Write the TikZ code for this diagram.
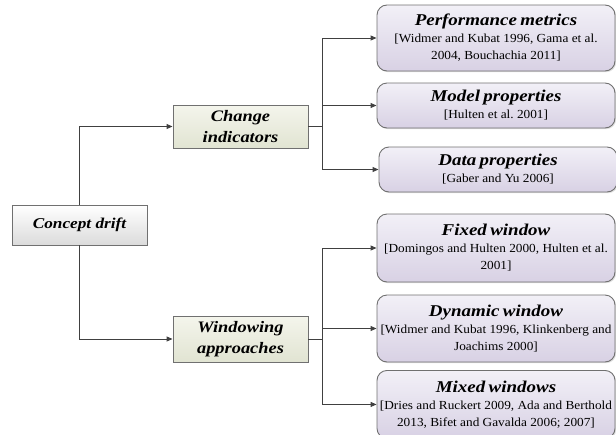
\documentclass[tikz,border=0pt]{standalone}
\usepackage{fontspec}
\setmainfont{Liberation Serif}
\newfontfamily\ttlfont[FakeStretch=1.15]{Liberation Serif}
\newfontfamily\citfont[FakeStretch=1.08]{Liberation Serif}
\usetikzlibrary{shadows,arrows.meta}
\definecolor{linec}{HTML}{404040}
\definecolor{bordc}{HTML}{707070}
\definecolor{lavtop}{HTML}{F2F0F7}
\definecolor{lavbot}{HTML}{D8D1E4}
\definecolor{olvtop}{HTML}{F4F5EC}
\definecolor{olvbot}{HTML}{E1E4D2}
\tikzset{
  basebox/.style={draw=bordc, line width=0.9pt, drop shadow={opacity=0.25, shadow xshift=1.2pt, shadow yshift=-1.2pt}},
  rootbox/.style={basebox, top color=white, bottom color=black!14, minimum width=135pt, minimum height=40pt, inner sep=0pt,
     font=\ttlfont\fontsize{15}{17}\selectfont\bfseries\itshape},
  midbox/.style={basebox, top color=olvtop, bottom color=olvbot, minimum width=135pt, inner sep=0pt, align=center,
     font=\ttlfont\fontsize{16}{21}\selectfont\bfseries\itshape},
  leafbox/.style={basebox, rounded corners=10pt, top color=lavtop, bottom color=lavbot, minimum width=238pt,
     text width=252pt, inner xsep=-7pt, inner ysep=0pt, align=center},
  conn/.style={draw=linec, line width=0.9pt},
  arr/.style={conn, -{Triangle[length=6pt,width=5pt]}},
}
\newcommand{\ttl}[1]{{\ttlfont\fontsize{16.5}{20}\selectfont\bfseries\itshape #1}\par}
\newcommand{\cit}[1]{{\citfont\fontsize{12.3}{17}\selectfont #1\par}}
\frenchspacing
\begin{document}
\begin{tikzpicture}[x=1pt,y=-1pt]
\useasboundingbox (0,0) rectangle (616,434);
\node[rootbox] (cd) at (79.5,225) {Concept drift};
\node[midbox, minimum height=43pt] (ci) at (240.5,126.5) {Change\\indicators};
\node[midbox, minimum height=46pt] (wa) at (240.5,339) {Windowing\\approaches};

\node[leafbox, minimum height=66pt] (b1) at (496,38) {\ttl{Performance metrics}\cit{{[}Widmer and Kubat 1996, Gama et al.\\2004, Bouchachia 2011{]}}};
\node[leafbox, minimum height=45pt] (b2) at (496,105.5) {\ttl{Model properties}\cit{{[}Hulten et al. 2001{]}}};
\node[leafbox, minimum height=45pt, minimum width=233pt] (b3) at (498,169.5) {\ttl{Data properties}\cit{{[}Gaber and Yu 2006{]}}};
\node[leafbox, minimum height=68pt] (b4) at (496,248) {\ttl{Fixed window}\cit{{[}Domingos and Hulten 2000, Hulten et al.\\2001{]}}};
\node[leafbox, minimum height=67pt] (b5) at (496,328.5) {\ttl{Dynamic window}\cit{{[}Widmer and Kubat 1996, Klinkenberg and\\Joachims 2000{]}}};
\node[leafbox, minimum height=68pt, anchor=north] (b6) at (496,370) {\ttl{Mixed windows}\cit{{[}Dries and Ruckert 2009, Ada and Berthold\\2013, Bifet and Gavalda 2006; 2007{]}}};

\coordinate (j1) at (322,126.5);
\coordinate (j2) at (322,339);

\draw[arr] (cd.north) |- (ci.west);
\draw[arr] (cd.south) |- (wa.west);
\draw[conn] (ci.east) -- (j1);
\draw[conn] (wa.east) -- (j2);
\foreach \b in {b1,b2,b3} \draw[arr] (j1) |- (\b.west);
\foreach \b in {b4,b5,b6} \draw[arr] (j2) |- (\b.west);
\end{tikzpicture}
\end{document}
